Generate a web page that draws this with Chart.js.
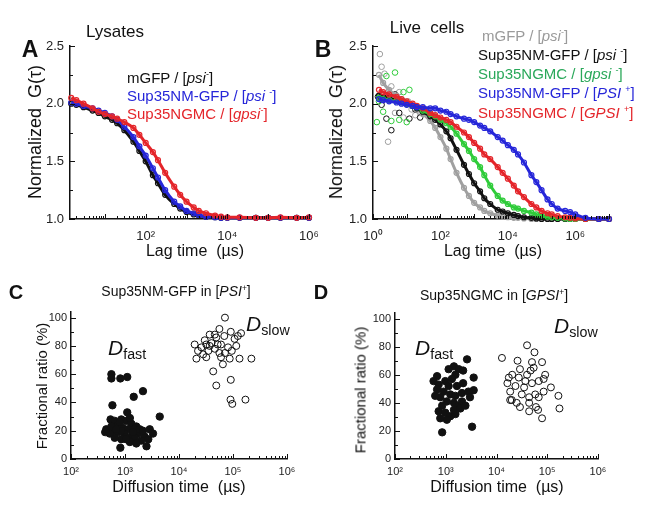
<!DOCTYPE html>
<html>
<head>
<meta charset="utf-8">
<script src="https://cdn.jsdelivr.net/npm/chart.js@4.4.0/dist/chart.umd.min.js"></script>
<style>
  body { margin: 0; background: #fff; }
  #fig { position: relative; width: 652px; height: 516px; overflow: hidden;
         font-family: "Liberation Sans", Arial, sans-serif; color: #111; }
  #fig canvas { position: absolute; left: 0; top: 0; }
  .t { position: absolute; white-space: nowrap; line-height: 1; }
  .c { transform: translate(-50%, -50%); }
  .l { transform: translateY(-50%); }
  .v { transform: translate(-50%, -50%) rotate(-90deg); }
  .big { font-weight: bold; }
  sup { font-size: 0.6em; vertical-align: 0.65em; line-height: 0; }
  sub { font-size: 0.68em; vertical-align: -0.3em; line-height: 0; font-style: normal; }
</style>
</head>
<body>
<div id="fig">
  <canvas id="pA" width="652" height="516"></canvas>
  <canvas id="pB" width="652" height="516"></canvas>
  <canvas id="pC" width="652" height="516"></canvas>
  <canvas id="pD" width="652" height="516"></canvas>

  <!-- panel letters and titles -->
  <div class="t c big" style="left:30px;top:49px;font-size:23px">A</div>
  <div class="t c big" style="left:323px;top:49px;font-size:23px">B</div>
  <div class="t c big" style="left:16px;top:292px;font-size:20px">C</div>
  <div class="t c big" style="left:321px;top:292px;font-size:20px">D</div>
  <div class="t c" style="left:115px;top:31px;font-size:17px">Lysates</div>
  <div class="t c" style="left:427px;top:27px;font-size:17px">Live&nbsp; cells</div>
  <div class="t c" style="left:176px;top:291px;font-size:14px">Sup35NM-GFP in [<i>PSI</i><sup>+</sup>]</div>
  <div class="t c" style="left:494px;top:295px;font-size:14px">Sup35NGMC in [<i>GPSI</i><sup>+</sup>]</div>

  <!-- legends -->
  <div class="t l" style="left:127px;top:77px;font-size:15px;color:#111">mGFP / [<i>psi</i><sup>-</sup>]</div>
  <div class="t l" style="left:127px;top:95px;font-size:15px;color:#2626d9">Sup35NM-GFP / [<i>psi</i> <sup>-</sup>]</div>
  <div class="t l" style="left:127px;top:113px;font-size:15px;color:#e4252a">Sup35NGMC / [<i>gpsi</i><sup>-</sup>]</div>

  <div class="t l" style="left:482px;top:35px;font-size:15px;color:#9a9a9a">mGFP / [<i>psi</i><sup>-</sup>]</div>
  <div class="t l" style="left:478px;top:54px;font-size:15px;color:#111">Sup35NM-GFP / [<i>psi</i> <sup>-</sup>]</div>
  <div class="t l" style="left:478px;top:73px;font-size:15px;color:#2aa85a">Sup35NGMC / [<i>gpsi</i> <sup>-</sup>]</div>
  <div class="t l" style="left:478px;top:92px;font-size:15px;color:#2626d9">Sup35NM-GFP / [<i>PSI</i> <sup>+</sup>]</div>
  <div class="t l" style="left:478px;top:112px;font-size:15px;color:#e4252a">Sup35NGMC / [<i>GPSI</i> <sup>+</sup>]</div>

  <!-- axis titles -->
  <div class="t v" style="left:35px;top:132px;font-size:18px">Normalized&nbsp; G(τ)</div>
  <div class="t v" style="left:336px;top:132px;font-size:18px">Normalized&nbsp; G(τ)</div>
  <div class="t c" style="left:195px;top:251px;font-size:16px">Lag time&nbsp; (µs)</div>
  <div class="t c" style="left:493px;top:251px;font-size:16px">Lag time&nbsp; (µs)</div>
  <div class="t v" style="left:41px;top:386px;font-size:15px">Fractional ratio (%)</div>
  <div class="t v" style="left:360px;top:390px;font-size:15px">Fractional ratio (%)</div>
  <div class="t c" style="left:179px;top:487px;font-size:16px">Diffusion time&nbsp; (µs)</div>
  <div class="t c" style="left:497px;top:487px;font-size:16px">Diffusion time&nbsp; (µs)</div>

  <!-- population labels -->
  <div class="t l" style="left:108px;top:347px;font-size:21px"><i>D</i><sub>fast</sub></div>
  <div class="t l" style="left:246px;top:323px;font-size:21px"><i>D</i><sub>slow</sub></div>
  <div class="t l" style="left:415px;top:347px;font-size:21px"><i>D</i><sub>fast</sub></div>
  <div class="t l" style="left:554px;top:325px;font-size:21px"><i>D</i><sub>slow</sub></div>
</div>

<script>
// ---- data ----
// A: lysates, normalized G(tau) vs lag time (us)
const lagA = [1.5, 2, 3, 5, 7, 10, 15, 20, 30, 50, 70, 100, 150, 200, 300, 500, 700,
  1000, 1500, 2000, 3000, 5000, 7000, 10000, 20000, 50000, 100000, 200000, 500000, 1000000];
const mgfpA = [2.00, 1.99, 1.97, 1.94, 1.92, 1.89, 1.86, 1.83, 1.77, 1.67, 1.59, 1.50, 1.38, 1.31, 1.21,
  1.13, 1.09, 1.06, 1.04, 1.03, 1.02, 1.015, 1.01, 1.01, 1.01, 1.01, 1.01, 1.01, 1.01, 1.01];
const nmA = [2.01, 2.00, 1.98, 1.96, 1.94, 1.92, 1.89, 1.86, 1.80, 1.71, 1.63, 1.55, 1.44, 1.36, 1.25,
  1.15, 1.11, 1.07, 1.05, 1.035, 1.02, 1.015, 1.01, 1.01, 1.01, 1.01, 1.01, 1.01, 1.01, 1.01];
const ngmcA = [2.05, 2.03, 2.00, 1.96, 1.93, 1.91, 1.89, 1.87, 1.84, 1.79, 1.73, 1.66, 1.58, 1.51, 1.40,
  1.28, 1.21, 1.15, 1.10, 1.07, 1.05, 1.03, 1.02, 1.015, 1.015, 1.01, 1.01, 1.015, 1.01, 1.015];

// B: live cells
const lagB = [1.5, 2, 3, 5, 7, 10, 15, 20, 30, 50, 70, 100, 150, 200, 300, 500, 700, 1000, 1500, 2000,
  3000, 5000, 7000, 10000, 15000, 20000, 30000, 50000, 70000, 100000, 150000, 200000, 300000,
  500000, 700000, 1000000, 2000000, 5000000, 10000000];
const mgfpB = [2.25, 2.18, 2.12, 2.07, 2.04, 2.01, 1.98, 1.95, 1.91, 1.85, 1.79, 1.71, 1.61, 1.52, 1.40,
  1.27, 1.20, 1.14, 1.10, 1.07, 1.05, 1.03, 1.02, 1.015, 1.01, 1.01, 1.005, 1.0, 1.0, 1.0, 1.0, 1.0,
  1.0, 1.0, 1.0, 1.0, 1.0, 1.0, 1.0];
const nmPsiB = [2.07, 2.06, 2.05, 2.03, 2.02, 2.00, 1.98, 1.96, 1.93, 1.89, 1.86, 1.82, 1.76, 1.70, 1.60,
  1.47, 1.39, 1.31, 1.24, 1.18, 1.13, 1.08, 1.065, 1.05, 1.035, 1.025, 1.015, 1.01, 1.005, 1.0, 1.0,
  1.0, 1.0, 1.0, 1.0, 1.0, 1.0, 1.0, 1.0];
const ngmcPsiB = [2.05, 2.04, 2.03, 2.02, 2.01, 2.00, 1.98, 1.97, 1.94, 1.91, 1.89, 1.86, 1.83, 1.80, 1.74,
  1.65, 1.59, 1.52, 1.45, 1.38, 1.29, 1.20, 1.16, 1.13, 1.10, 1.09, 1.07, 1.055, 1.04, 1.03, 1.02,
  1.015, 1.01, 1.005, 1.0, 1.0, 1.0, 1.0, 1.0];
const nmPSIB = [2.04, 2.03, 2.02, 2.01, 2.00, 1.99, 1.98, 1.97, 1.97, 1.96, 1.96, 1.94, 1.93, 1.91, 1.89,
  1.87, 1.86, 1.84, 1.81, 1.79, 1.76, 1.71, 1.68, 1.64, 1.60, 1.56, 1.49, 1.38, 1.32, 1.25, 1.17,
  1.13, 1.09, 1.07, 1.06, 1.04, 1.01, 1.0, 1.0];
const ngmcGPSIB = [2.12, 2.10, 2.08, 2.06, 2.04, 2.02, 2.00, 1.98, 1.96, 1.92, 1.90, 1.88, 1.86, 1.84, 1.80,
  1.75, 1.71, 1.66, 1.61, 1.56, 1.52, 1.45, 1.40, 1.35, 1.29, 1.24, 1.19, 1.13, 1.10, 1.07, 1.05,
  1.04, 1.025, 1.015, 1.01, 1.005, 1.0, 1.0, 1.0];
// noisy short-lag points in live cells
const grayNoiseT = [1.6, 1.8, 2.2, 2.8, 3.5, 4.5, 6, 8, 11, 14, 18, 25];
const grayNoiseG = [2.43, 2.32, 2.26, 1.67, 2.15, 1.92, 2.10, 1.88, 2.02, 1.95, 1.90, 1.93];
const greenNoiseT = [1.3, 1.5, 2, 2.5, 3.5, 4.5, 6, 8, 10, 12, 15];
const greenNoiseG = [1.84, 2.02, 1.93, 2.24, 1.85, 2.27, 1.86, 2.10, 1.84, 2.12, 1.98];
const blackNoiseT = [1.4, 1.8, 2.5, 3.5, 4.5, 6, 8, 12, 18, 25];
const blackNoiseG = [2.06, 1.99, 1.87, 1.77, 2.08, 1.92, 2.02, 1.87, 1.95, 1.88];

// C: Sup35NM-GFP in [PSI+], diffusion time (us) vs fractional ratio (%)
const fastCt = [560, 560, 820, 1100, 2150, 1450, 585, 1100, 4400, 430, 820, 540, 645, 855, 1050, 1310,
  1620, 690, 910, 1140, 600, 740, 980, 1310, 1740, 2300, 2870, 3300, 2700, 2000, 1510, 1230, 1620,
  2500, 855, 645, 520, 450, 560, 800, 1230, 1510, 1870, 1050, 2150, 1400, 855, 690];
const fastCr = [60, 57, 57, 58, 48, 44, 38, 33, 30, 19, 8, 28, 27, 28, 27, 25, 23, 23, 22, 21, 20, 19,
  18, 16, 18, 16, 21, 18, 14, 13, 15, 12, 11, 9, 14, 15, 18, 21, 23, 26, 29, 21, 21, 14, 20, 19, 20, 21];
const slowCt = [71000, 19500, 21000, 32000, 43000, 49000, 65000, 87000, 132000, 219000, 141000, 91000,
  90000, 97000, 170000, 91000, 56000, 37000, 30000, 26000, 40000, 49000, 60000, 69000, 81000, 107000,
  123000, 46000, 35000, 56000, 95000, 71000, 37000, 52000, 46000, 32000, 115000, 28000, 22500, 60000];
const slowCr = [100, 81, 71, 72, 62, 52, 67, 71, 71, 71, 89, 56, 42, 39, 42, 90, 92, 88, 84, 79, 82, 86,
  81, 87, 79, 85, 87, 78, 76.5, 75, 76.5, 75, 80, 81, 88, 81, 80, 74, 76.5, 72];

// D: Sup35NGMC in [GPSI+]
const fastDt = [2630, 850, 3300, 675, 3550, 3550, 1450, 1800, 2200, 1550, 980, 725, 1140, 1660, 910, 1230,
  1550, 2090, 2800, 780, 1050, 1450, 1800, 2090, 850, 725, 980, 1230, 1550, 780, 1050, 1450, 620, 675,
  1320, 2200, 1140, 1940, 3000, 575, 2440];
const fastDr = [71, 19, 23, 59, 58, 49, 66, 64, 63, 60, 55.5, 53, 52, 52, 48, 46, 45, 47, 48, 44, 41, 40,
  38, 41, 38, 34, 33, 30.5, 32, 29, 28, 35, 45, 49.5, 57, 54, 64, 36, 44, 55.5, 38];
const slowDt = [12800, 40000, 56000, 26000, 50000, 79000, 17500, 29000, 47000, 91000, 85000, 118000,
  166000, 174000, 79000, 66000, 44000, 60000, 29000, 20000, 25000, 18600, 35000, 50000, 68000, 37000,
  23600, 31500, 44000, 58000, 85000, 16400, 27500, 40000, 54000, 20400, 44000, 18600, 68000];
const slowDr = [72, 81, 76, 70, 69, 69, 58, 64, 63, 60, 57, 51, 45, 36, 29, 35, 34, 37, 37, 42, 40, 48,
  51, 54, 55.5, 55.5, 52, 46, 44, 46, 48, 54, 58, 60, 65, 60, 40, 42, 44];

// tick labels
const lagTicksA = [100, 10000, 1000000];
const lagTicksB = [1, 100, 10000, 1000000];
const diffTicks = [100, 1000, 10000, 100000, 1000000];
const gTicks = [1.0, 1.5, 2.0, 2.5];
const ratioTicks = [0, 20, 40, 60, 80, 100];

// ---- drawing ----
const W = 652, H = 516, YW = 40, XH = 30;
const SUP = {0: '⁰', 1: '¹', 2: '²', 3: '³', 4: '⁴', 5: '⁵', 6: '⁶', 7: '⁷'};
const pow10 = v => '10' + SUP[Math.round(Math.log10(v))];
const pts = (xs, ys) => xs.map((x, i) => ({x: x, y: ys[i]}));

// minor tick positions for a log axis
function logMinor(lo, hi) {
  let out = [];
  for (let e = lo; e < hi; e++) {
    for (let m = 2; m <= 9; m++) out.push(m * Math.pow(10, e));
  }
  return out;
}
function decades(lo, hi) {
  let out = [];
  for (let e = lo; e <= hi; e++) out.push(Math.pow(10, e));
  return out;
}

// ticks pointing into the plot, like the original figure
const inTicks = {
  id: 'inTicks',
  afterDraw(chart, args, opts) {
    const ctx = chart.ctx, a = chart.chartArea;
    const xs = chart.scales.x, ys = chart.scales.y;
    ctx.save();
    ctx.strokeStyle = '#111';
    ctx.lineWidth = 1;
    ctx.beginPath();
    const xt = (list, len) => list.forEach(v => {
      if (v < xs.min || v > xs.max) return;
      const p = Math.round(xs.getPixelForValue(v)) + 0.5;
      ctx.moveTo(p, a.bottom); ctx.lineTo(p, a.bottom - len);
    });
    const yt = (list, len) => list.forEach(v => {
      const p = Math.round(ys.getPixelForValue(v)) + 0.5;
      ctx.moveTo(a.left, p); ctx.lineTo(a.left + len, p);
    });
    xt(opts.xMajor || [], 5);
    xt(opts.xMinor || [], 3);
    yt(opts.yMajor || [], 5);
    yt(opts.yMinor || [], 3);
    ctx.stroke();
    ctx.restore();
  }
};

function fixBox(size, horiz) {
  return s => {
    if (horiz) s.height = size; else s.width = size;
    s.paddingLeft = s.paddingRight = s.paddingTop = s.paddingBottom = 0;
  };
}

function panel(id, box, xCfg, yCfg, datasets, ticks) {
  new Chart(document.getElementById(id), {
    type: 'scatter',
    data: {datasets: datasets},
    options: {
      responsive: false,
      animation: false,
      devicePixelRatio: 1,
      events: [],
      layout: {padding: {left: box.l - YW, top: box.t, right: W - box.r, bottom: H - box.b - XH}},
      plugins: {legend: {display: false}, tooltip: {enabled: false}, inTicks: ticks},
      scales: {
        x: {
          type: 'logarithmic', min: xCfg.min, max: xCfg.max,
          afterFit: fixBox(XH, true),
          afterBuildTicks: s => { s.ticks = xCfg.ticks.map(v => ({value: v})); },
          ticks: {callback: v => pow10(v), font: {size: xCfg.font, family: 'Liberation Sans'},
                  color: '#222', padding: xCfg.pad, maxRotation: 0, autoSkip: false},
          grid: {display: true, drawOnChartArea: false, drawTicks: false},
          border: {display: true, color: '#111', width: 1.5}
        },
        y: {
          type: 'linear', min: yCfg.min, max: yCfg.max,
          afterFit: fixBox(YW, false),
          afterBuildTicks: s => { s.ticks = yCfg.ticks.map(v => ({value: v})); },
          ticks: {callback: yCfg.fmt, font: {size: yCfg.font, family: 'Liberation Sans'},
                  color: '#222', padding: yCfg.pad, autoSkip: false},
          grid: {display: true, drawOnChartArea: false, drawTicks: false},
          border: {display: true, color: '#111', width: 1.5}
        }
      }
    },
    plugins: [inTicks]
  });
}

// measured curve: thick fit line with open circles on it
function curve(xs, ys, color, order) {
  return {data: pts(xs, ys), showLine: true, borderColor: color, borderWidth: 3,
    pointRadius: 2.5, pointBorderWidth: 1.2, pointBorderColor: color,
    pointBackgroundColor: 'rgba(255,255,255,0)', cubicInterpolationMode: 'monotone',
    clip: false, order: order};
}
function noise(xs, ys, color, order) {
  return {data: pts(xs, ys), showLine: false, pointRadius: 2.8, pointBorderWidth: 1,
    borderColor: color, pointBorderColor: color, pointBackgroundColor: 'rgba(255,255,255,0)',
    clip: false, order: order};
}

const BLACK = '#111', BLUE = '#2626d9', RED = '#e4252a', GREEN = '#2fcc3a', GRAY = '#a0a0a0';
const gFmt = v => v.toFixed(1);

panel('pA', {l: 70, r: 309, t: 46, b: 219},
  {min: 1.4, max: 1000000, ticks: lagTicksA, font: 13, pad: 10},
  {min: 1.0, max: 2.5, ticks: gTicks, font: 13, pad: 6, fmt: gFmt},
  [curve(lagA, ngmcA, RED, 1), curve(lagA, nmA, BLUE, 2), curve(lagA, mgfpA, BLACK, 3)],
  {xMajor: decades(0, 6), xMinor: logMinor(0, 6), yMajor: gTicks, yMinor: [1.25, 1.75, 2.25]});

panel('pB', {l: 373, r: 609, t: 46, b: 219},
  {min: 1, max: 10000000, ticks: lagTicksB, font: 13, pad: 10},
  {min: 1.0, max: 2.5, ticks: gTicks, font: 13, pad: 6, fmt: gFmt},
  [curve(lagB, nmPSIB, BLUE, 1), curve(lagB, ngmcGPSIB, RED, 2), curve(lagB, ngmcPsiB, GREEN, 3),
   curve(lagB, nmPsiB, BLACK, 4), curve(lagB, mgfpB, GRAY, 5),
   noise(greenNoiseT, greenNoiseG, GREEN, 6), noise(blackNoiseT, blackNoiseG, BLACK, 7),
   noise(grayNoiseT, grayNoiseG, GRAY, 8)],
  {xMajor: decades(0, 7), xMinor: logMinor(0, 7), yMajor: gTicks, yMinor: [1.25, 1.75, 2.25]});

function dots(xs, ys, filled) {
  return {data: pts(xs, ys), pointRadius: filled ? 3.7 : 3.5, pointBorderWidth: 1, borderColor: '#111',
    pointBorderColor: '#111', pointBackgroundColor: filled ? '#111' : 'rgba(255,255,255,0)',
    clip: false};
}
const rFmt = v => String(v);

panel('pC', {l: 71, r: 287, t: 312, b: 459},
  {min: 100, max: 1000000, ticks: diffTicks, font: 11, pad: 6},
  {min: 0, max: 104, ticks: ratioTicks, font: 11, pad: 4, fmt: rFmt},
  [dots(fastCt, fastCr, true), dots(slowCt, slowCr, false)],
  {xMajor: decades(2, 6), xMinor: logMinor(2, 6), yMajor: ratioTicks, yMinor: [10, 30, 50, 70, 90]});

panel('pD', {l: 395, r: 598, t: 313, b: 459},
  {min: 100, max: 1000000, ticks: diffTicks, font: 11, pad: 6},
  {min: 0, max: 104, ticks: ratioTicks, font: 11, pad: 4, fmt: rFmt},
  [dots(fastDt, fastDr, true), dots(slowDt, slowDr, false)],
  {xMajor: decades(2, 6), xMinor: logMinor(2, 6), yMajor: ratioTicks, yMinor: [10, 30, 50, 70, 90]});
</script>
</body>
</html>
